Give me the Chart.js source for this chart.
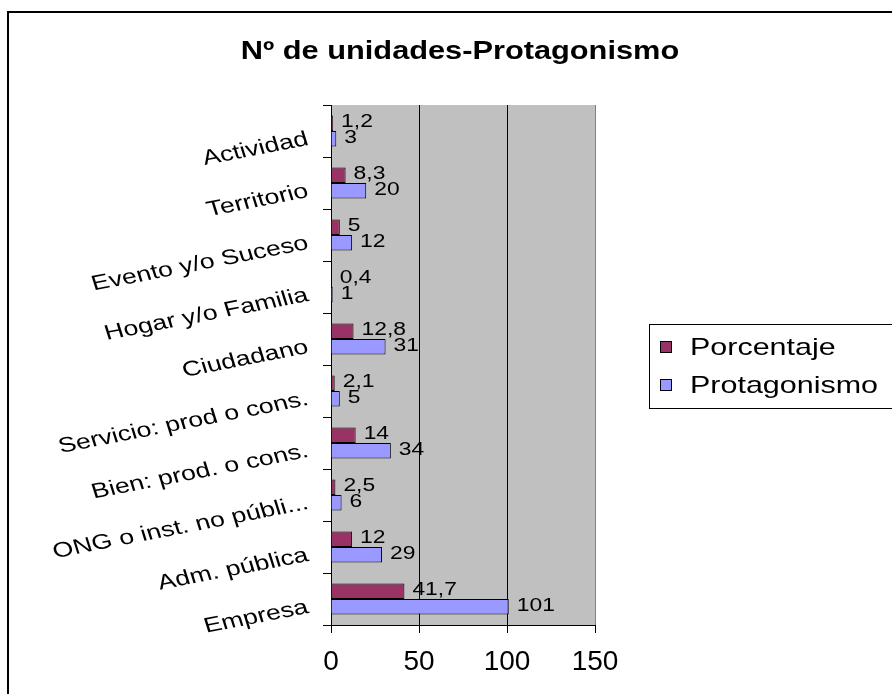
<!DOCTYPE html>
<html lang="es">
<head>
  <meta charset="UTF-8" />
  <title>Nº de unidades-Protagonismo</title>
  <script src="https://cdn.jsdelivr.net/npm/chart.js"></script>
  <style>
    body { margin: 0; background: #fff; overflow: hidden; }
    #chart { display: block; }
  </style>
</head>
<body>
  <canvas id="chart" width="892" height="694"></canvas>

<script>
  // datos
  const categorias = ['Actividad', 'Territorio', 'Evento y/o Suceso', 'Hogar y/o Familia', 'Ciudadano',
    'Servicio: prod o cons.', 'Bien: prod. o cons.', 'ONG o inst. no públi...', 'Adm. pública', 'Empresa'];
  const porcentaje = [1.2, 8.3, 5, 0.4, 12.8, 2.1, 14, 2.5, 12, 41.7];
  const protagonismo = [3, 20, 12, 1, 31, 5, 34, 6, 29, 101];
  const ticksX = [0, 50, 100, 150];

  const FONT = "'Liberation Sans', Arial, sans-serif";
  const ESTIRA = 1.27; // el original esta estirado en horizontal

  function textoEstirado(ctx, txt, x, y, sx, ang) {
    ctx.save();
    ctx.translate(x, y);
    ctx.scale(sx, 1);
    if (ang) ctx.rotate(-ang);
    ctx.fillText(txt, 0, 0);
    ctx.restore();
  }

  // fondo gris, marco exterior y titulo
  const fondo = {
    id: 'fondo',
    beforeDraw(chart) {
      const { ctx, chartArea: a } = chart;
      ctx.save();
      ctx.strokeStyle = '#000';
      ctx.lineWidth = 2;
      ctx.strokeRect(8, 12, 2000, 2000);
      ctx.fillStyle = '#c0c0c0';
      ctx.fillRect(a.left, a.top, a.right - a.left, a.bottom - a.top);

      ctx.fillStyle = '#000';
      ctx.font = 'bold 25px ' + FONT;
      ctx.textAlign = 'center';
      ctx.textBaseline = 'alphabetic';
      textoEstirado(ctx, 'Nº de unidades-Protagonismo', 460, 59, 1.23);
      ctx.restore();
    }
  };

  // etiquetas de categoria giradas (posiciones sacadas del eje y)
  const etiquetasY = {
    id: 'etiquetasY',
    afterDraw(chart) {
      const ctx = chart.ctx, esc = chart.scales.y;
      const ang = Math.atan(Math.tan(11 * Math.PI / 180) * ESTIRA);
      ctx.save();
      ctx.fillStyle = '#000';
      ctx.font = '21px ' + FONT;
      ctx.textAlign = 'right';
      ctx.textBaseline = 'middle';
      chart.data.labels.forEach((lab, i) => {
        textoEstirado(ctx, lab, 308, esc.getPixelForTick(i) + 8, ESTIRA, ang);
      });
      ctx.restore();
    }
  };

  // etiquetas de valor al final de cada barra
  const etiquetas = {
    id: 'etiquetas',
    afterDatasetsDraw(chart) {
      const ctx = chart.ctx;
      ctx.save();
      ctx.fillStyle = '#000';
      ctx.font = '18px ' + FONT;
      ctx.textAlign = 'left';
      ctx.textBaseline = 'middle';
      chart.data.datasets.forEach((ds, i) => {
        chart.getDatasetMeta(i).data.forEach((bar, j) => {
          const txt = String(ds.data[j]).replace('.', ',');
          textoEstirado(ctx, txt, bar.x + 8, bar.y - 1, ESTIRA);
        });
      });
      ctx.restore();
    }
  };

  // leyenda con recuadro
  const leyenda = {
    id: 'leyenda',
    afterDraw(chart) {
      const ctx = chart.ctx;
      ctx.save();
      ctx.strokeStyle = '#000';
      ctx.lineWidth = 1;
      ctx.fillStyle = '#fff';
      ctx.fillRect(649.5, 324.5, 400, 84);
      ctx.strokeRect(649.5, 324.5, 400, 84);
      ctx.font = '24px ' + FONT;
      ctx.textBaseline = 'middle';
      chart.data.datasets.forEach((ds, i) => {
        const y = 347 + i * 38;
        ctx.fillStyle = ds.backgroundColor;
        ctx.fillRect(660.5, y - 5.5, 11, 11);
        ctx.strokeRect(660.5, y - 5.5, 11, 11);
        ctx.fillStyle = '#000';
        textoEstirado(ctx, ds.label, 690, y + 1, ESTIRA);
      });
      ctx.restore();
    }
  };

  new Chart(document.getElementById('chart'), {
    type: 'bar',
    data: {
      labels: categorias,
      datasets: [
        { label: 'Porcentaje', data: porcentaje, backgroundColor: '#993366', borderColor: '#000', borderWidth: 1 },
        { label: 'Protagonismo', data: protagonismo, backgroundColor: '#9999ff', borderColor: '#000', borderWidth: 1 }
      ]
    },
    options: {
      indexAxis: 'y',
      responsive: false,
      animation: false,
      categoryPercentage: 0.6,
      barPercentage: 1.0,
      layout: { padding: { left: 0, top: 105, right: 297, bottom: 0 } },
      plugins: {
        legend: { display: false },
        title: { display: false },
        tooltip: { enabled: false }
      },
      scales: {
        x: {
          min: 0, max: 150,
          afterBuildTicks: s => { s.ticks = ticksX.map(v => ({ value: v })); },
          afterFit: s => { s.height = 69; },
          ticks: { color: '#000', font: { family: FONT, size: 28 }, padding: 12 },
          grid: {
            color: c => (c.tick && c.tick.value === 150 ? '#808080' : '#000'),
            tickColor: '#000',
            tickLength: 8
          },
          border: { color: '#000' }
        },
        y: {
          afterFit: s => { s.width = 331; },
          ticks: { display: false },
          grid: { offset: true, drawOnChartArea: false, tickColor: '#000', tickLength: 8 },
          border: { color: '#000' }
        }
      }
    },
    plugins: [fondo, etiquetas, etiquetasY, leyenda]
  });
</script>
</body>
</html>
